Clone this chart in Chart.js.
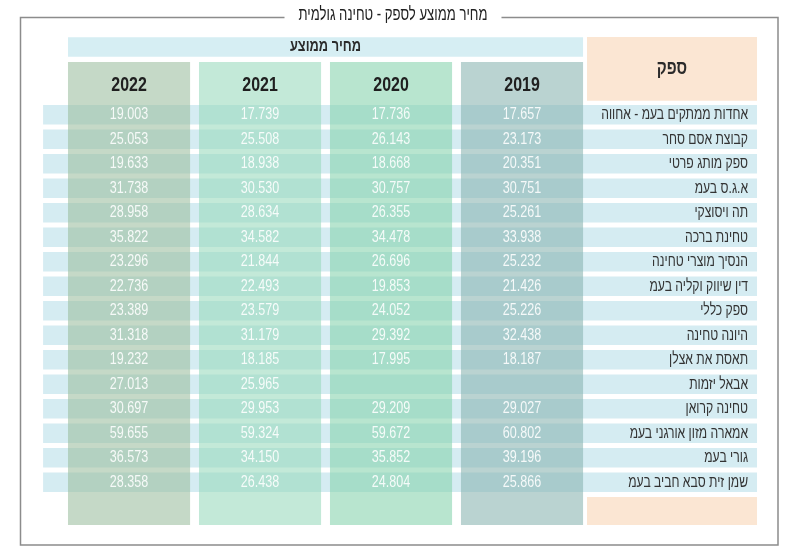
<!DOCTYPE html>
<html lang="he">
<head>
<meta charset="utf-8">
<title>מחיר ממוצע לספק - טחינה גולמית</title>
<script src="https://cdn.jsdelivr.net/npm/chart.js@4.4.1/dist/chart.umd.min.js"></script>
<style>
  html, body { margin: 0; padding: 0; background: #fff; }
  #wrap { width: 800px; height: 553px; position: relative; }
</style>
</head>
<body>
<div id="wrap"><canvas id="priceTable"></canvas></div>
<script>
'use strict';

var title = 'מחיר ממוצע לספק - טחינה גולמית';
var groupLabel = 'מחיר ממוצע';
var supplierLabel = 'ספק';
var years = ['2022', '2021', '2020', '2019'];
var suppliers = ['אחדות ממתקים בעמ - אחווה', 'קבוצת אסם סחר', 'ספק מותג פרטי', 'א.ג.ס בעמ',
                 'תה ויסוצקי', 'טחינת ברכה', 'הנסיך מוצרי טחינה', 'דין שיווק וקליה בעמ',
                 'ספק כללי', 'היונה טחינה', 'תאסת את אצלן', 'אבאל יזמות',
                 'טחינה קרואן', 'אמארה מזון אורגני בעמ', 'גורי בעמ', 'שמן זית סבא חביב בעמ'];
var price2022 = [19.003, 25.053, 19.633, 31.738, 28.958, 35.822, 23.296, 22.736,
                 23.389, 31.318, 19.232, 27.013, 30.697, 59.655, 36.573, 28.358];
var price2021 = [17.739, 25.508, 18.938, 30.530, 28.634, 34.582, 21.844, 22.493,
                 23.579, 31.179, 18.185, 25.965, 29.953, 59.324, 34.150, 26.438];
var price2020 = [17.736, 26.143, 18.668, 30.757, 26.355, 34.478, 26.696, 19.853,
                 24.052, 29.392, 17.995, null, 29.209, 59.672, 35.852, 24.804];
var price2019 = [17.657, 23.173, 20.351, 30.751, 25.261, 33.938, 25.232, 21.426,
                 25.226, 32.438, 18.187, null, 29.027, 60.802, 39.196, 25.866];
var prices = [price2022, price2021, price2020, price2019];

// layout, in column units (x) and row units (y)
var COL_HALF = 0.466;        // half a year column
var SUPP_COL = 4.145;        // centre of supplier column
var SUPP_HALF = 0.649;
var STRIPE_LEFT = -0.656;
var BAND_ROW = -2.765;
var YEAR_ROW = -1.2;
var COL_SPAN = [-2.153, 16.745];
var SUPP_HEAD = [-3.173, -0.573];
var SUPP_FOOT = [15.60, 16.745];

var colColors = ['rgba(152,188,155,0.56)', 'rgba(148,215,186,0.56)',
                 'rgba(128,208,170,0.56)', 'rgba(136,180,176,0.58)'];
var FONT = '"Liberation Sans", "DejaVu Sans", sans-serif';

function noTicks(axis) { axis.ticks = []; }

function hiddenAxis(axis, min, max, reverse) {
   return { type: 'linear', axis: axis, display: false, offset: false, reverse: !!reverse,
            min: min, max: max, afterBuildTicks: noTicks };
}

//draw narrow text, like the condensed face of the original
function putText(ctx, txt, x, y, font, color, align, squeeze) {
   ctx.save();
   ctx.font = font;
   ctx.fillStyle = color;
   ctx.textAlign = align;
   ctx.textBaseline = 'middle';
   ctx.translate(x, y);
   ctx.scale(squeeze, 1);
   ctx.fillText(txt, 0, 0);
   ctx.restore();
}

var framePlugin = {
   id: 'frame',
   beforeDraw: function (chart) {
      var ctx = chart.ctx;
      ctx.save();
      ctx.fillStyle = '#fff';
      ctx.fillRect(0, 0, chart.width, chart.height);
      ctx.font = '18px ' + FONT;
      var w = ctx.measureText(title).width * 0.73;
      var cx = 393, top = 17.5;
      ctx.strokeStyle = '#8c8c8c';
      ctx.lineWidth = 1.5;
      ctx.beginPath();
      ctx.moveTo(cx - w / 2 - 14, top);
      ctx.lineTo(20.5, top);
      ctx.lineTo(20.5, 545);
      ctx.lineTo(778, 545);
      ctx.lineTo(778, top);
      ctx.lineTo(cx + w / 2 + 14, top);
      ctx.stroke();
      ctx.restore();
      putText(ctx, title, cx, 15, '18px ' + FONT, '#222', 'center', 0.73);
   }
};

var textPlugin = {
   id: 'tableText',
   afterDatasetsDraw: function (chart) {
      var ctx = chart.ctx;
      var xs = chart.scales.x, ys = chart.scales.y;
      var nameX = xs.getPixelForValue(SUPP_COL + SUPP_HALF) - 9;

      putText(ctx, groupLabel, xs.getPixelForValue(1.5), ys.getPixelForValue(BAND_ROW),
              'bold 16px ' + FONT, '#2b2b2b', 'center', 0.8);
      putText(ctx, supplierLabel, xs.getPixelForValue(SUPP_COL), ys.getPixelForValue((SUPP_HEAD[0] + SUPP_HEAD[1]) / 2),
              'bold 19px ' + FONT, '#2b2b2b', 'center', 0.8);
      years.forEach(function (yr, i) {
         putText(ctx, yr, xs.getPixelForValue(i), ys.getPixelForValue(YEAR_ROW),
                 'bold 21px ' + FONT, '#1f1f1f', 'center', 0.76);
      });

      suppliers.forEach(function (name, r) {
         var y = ys.getPixelForValue(r);
         putText(ctx, name, nameX, y, '16px ' + FONT, '#333', 'right', 0.76);
         prices.forEach(function (col, i) {
            if (col[r] == null) return;
            putText(ctx, col[r].toFixed(3), xs.getPixelForValue(i), y,
                    '17px ' + FONT, 'rgba(255,255,255,0.88)', 'center', 0.74);
         });
      });
   }
};

var ctx = document.getElementById('priceTable').getContext('2d');
var tableChart = new Chart(ctx, {
   type: 'bar',
   data: {
      datasets: [{
         // year columns
         xAxisID: 'x', yAxisID: 'y',
         data: years.map(function (yr, i) { return { x: i, y: COL_SPAN }; }),
         backgroundColor: colColors,
         barPercentage: 2 * COL_HALF, categoryPercentage: 1,
         grouped: false, order: 0
      }, {
         // supplier header + footer
         xAxisID: 'x', yAxisID: 'y',
         data: [{ x: SUPP_COL, y: SUPP_HEAD }, { x: SUPP_COL, y: SUPP_FOOT }],
         backgroundColor: '#fbe6d3',
         barPercentage: 2 * SUPP_HALF, categoryPercentage: 1,
         grouped: false, order: 1
      }, {
         // "average price" band
         indexAxis: 'y', xAxisID: 'xh', yAxisID: 'yh',
         data: [{ y: BAND_ROW, x: [-COL_HALF, years.length - 1 + COL_HALF] }],
         backgroundColor: '#d6eef3',
         barPercentage: 0.79, categoryPercentage: 1,
         grouped: false, order: 1
      }, {
         // row stripes
         indexAxis: 'y', xAxisID: 'xh', yAxisID: 'yh',
         data: suppliers.map(function (s, r) { return { y: r, x: [STRIPE_LEFT, SUPP_COL + SUPP_HALF] }; }),
         backgroundColor: '#d5ecf2',
         barPercentage: 0.8, categoryPercentage: 1,
         grouped: false, order: 2
      }]
   },
   options: {
      responsive: true,
      maintainAspectRatio: false,
      animation: false,
      layout: { padding: 0 },
      plugins: { legend: { display: false }, tooltip: { enabled: false }, title: { display: false } },
      scales: {
         x: hiddenAxis('x', -0.985, 5.122),
         y: hiddenAxis('y', -4.684, 17.888, true),
         xh: hiddenAxis('x', -0.985, 5.122),
         yh: hiddenAxis('y', -4.684, 17.888, true)
      }
   },
   plugins: [framePlugin, textPlugin]
});
</script>
</body>
</html>
